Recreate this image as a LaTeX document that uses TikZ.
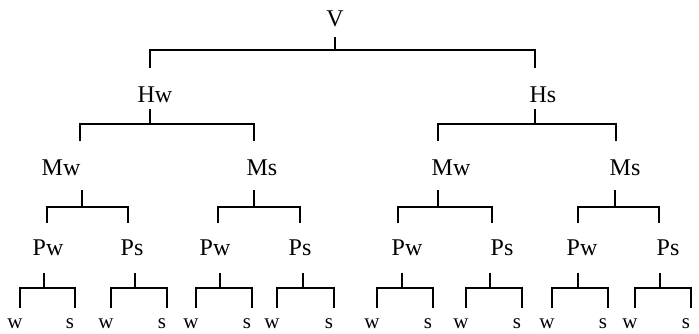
\documentclass[tikz,border=0pt]{standalone}
\usepackage{fontspec}
\setmainfont{Liberation Serif}
\begin{document}
\begin{tikzpicture}[x=1pt,y=-1pt,
  lab/.style={inner sep=0pt,font=\fontsize{24}{26}\selectfont},
  leaf/.style={inner sep=0pt,font=\fontsize{21}{23}\selectfont},
  br/.style={line width=1.5pt,line cap=butt}]
\useasboundingbox (0,0) rectangle (699,333);
% level 0
\node[lab] (V) at (335,19) {V};
\coordinate (Vt) at (335,37); \coordinate (Vj) at (335,50);
\coordinate (Va) at (150,68); \coordinate (Vb) at (535,68);
\draw[br] (Vt) -- (Vj);
\draw[br] (Va) |- (Vj) -| (Vb);
% level 1
\node[lab] (Hw) at (155,95) {Hw};
\node[lab] (Hs) at (543,95) {Hs};
\foreach \n/\x/\a/\b in {Hw/150/80/254, Hs/535/438/616}{
  \coordinate (\n t) at (\x,109); \coordinate (\n j) at (\x,124);
  \coordinate (\n a) at (\a,141); \coordinate (\n b) at (\b,141);
  \draw[br] (\n t) -- (\n j);
  \draw[br] (\n a) |- (\n j) -| (\n b);
}
% level 2
\node[lab] (M1) at (61,168) {Mw};
\node[lab] (M2) at (262,168) {Ms};
\node[lab] (M3) at (451,168) {Mw};
\node[lab] (M4) at (625,168) {Ms};
\foreach \n/\x/\a/\b in {M1/82/47/128, M2/254/218/300, M3/438/398/492, M4/615/578/659}{
  \coordinate (\n t) at (\x,190); \coordinate (\n j) at (\x,207);
  \coordinate (\n a) at (\a,223); \coordinate (\n b) at (\b,223);
  \draw[br] (\n t) -- (\n j);
  \draw[br] (\n a) |- (\n j) -| (\n b);
}
% level 3
\foreach \n/\t/\tx/\x/\a/\b in {P1/Pw/48/44/20/75, P2/Ps/132/135/111/167, P3/Pw/215/220/196/252, P4/Ps/300/303/277/334,
  P5/Pw/407/402/377/433, P6/Ps/502/490/466/522, P7/Pw/582/578/552/608, P8/Ps/668/660/635/691}{
  \node[lab] (\n) at (\tx,248) {\t};
  \coordinate (\n t) at (\x,273); \coordinate (\n j) at (\x,288);
  \coordinate (\n a) at (\a,308); \coordinate (\n b) at (\b,308);
  \draw[br] (\n t) -- (\n j);
  \draw[br] (\n a) |- (\n j) -| (\n b);
  \node[leaf,anchor=base] (\n w) at ([xshift=-5pt,yshift=-20pt]\n a) {w};
  \node[leaf,anchor=base] (\n s) at ([xshift=-5pt,yshift=-20pt]\n b) {s};
}
\end{tikzpicture}
\end{document}
